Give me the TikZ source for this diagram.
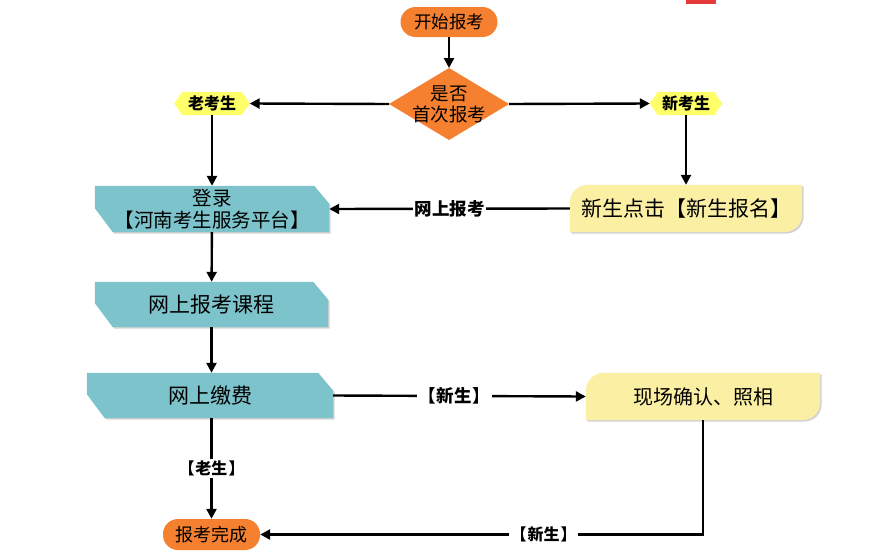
\documentclass[tikz,border=0pt]{standalone}
\usepackage{fontspec}
\setmainfont{Noto Sans CJK SC}
\usetikzlibrary{arrows.meta,calc,backgrounds}
\definecolor{orangec}{HTML}{F5802F}
\definecolor{tealc}{HTML}{7CC3CB}
\definecolor{paley}{HTML}{FBEFA3}
\definecolor{hexy}{HTML}{FFFF6A}
\definecolor{redc}{HTML}{E53A3A}
\tikzset{
  conn/.style={line width=2.4pt,-{Triangle[length=10pt,width=10pt]}},
  lbl/.style={fill=white,font=\bfseries\fontsize{15}{17}\selectfont,inner sep=1.5pt},
  txt/.style={draw=none,inner sep=0pt,align=center,text=black},
  pill/.style={txt,fill=orangec,rounded corners=15pt},
}
\begin{document}
\begin{tikzpicture}[x=1pt,y=-1pt]
\useasboundingbox (0,0) rectangle (869,554);
\fill[redc] (686,0) rectangle (716,3.5);
% nodes
\node[pill,minimum width=97pt,minimum height=30pt,font=\fontsize{17.5}{19}\selectfont] (start) at (449,22) {开始报考};
\node[txt,minimum width=120pt,minimum height=72pt,font=\fontsize{18.5}{21}\selectfont] (dec) at (449,104) {是否\\首次报考};
\coordinate (dect) at (449,68);
\coordinate (decl) at (389,104);
\coordinate (decr) at (509,104);
\node[txt,minimum width=75pt,minimum height=23pt,font=\bfseries\fontsize{16}{17}\selectfont] (old) at (212,103.5) {老考生};
\node[txt,minimum width=72pt,minimum height=23pt,font=\bfseries\fontsize{16}{17}\selectfont] (new) at (686,103.5) {新考生};
\node[txt,minimum width=234pt,minimum height=46pt,font=\fontsize{19.5}{22}\selectfont] (b1) at (212,209) {登录\\【河南考生服务平台】};
\node[txt,minimum width=233pt,minimum height=45pt,font=\fontsize{21}{23}\selectfont] (b2) at (211.5,304.5) {网上报考课程};
\node[txt,minimum width=246pt,minimum height=45pt,font=\fontsize{21}{23}\selectfont] (b3) at (210,395.5) {网上缴费};
\node[txt,minimum width=232pt,minimum height=47pt,font=\fontsize{21}{23}\selectfont] (y1) at (686,208.5) {新生点击【新生报名】};
\node[txt,minimum width=234pt,minimum height=47pt,font=\fontsize{20}{22}\selectfont] (y2) at (703,396.5) {现场确认、照相};
\node[pill,minimum width=97pt,minimum height=31pt,font=\fontsize{18}{20}\selectfont] (end) at (211.5,534.5) {报考完成};
% shapes
\begin{pgfonlayer}{background}
\fill[orangec] (dect) -- (decr) -- (449,140) -- (decl) -- cycle;
\foreach \n in {old,new}{
  \fill[hexy] (\n.west) -- ($(\n.north west)+(8,0)$) -- ($(\n.north east)+(-8,0)$) -- (\n.east)
    -- ($(\n.south east)+(-8,0)$) -- ($(\n.south west)+(8,0)$) -- cycle;
}
\foreach \n in {b1,b2,b3}{
  \fill[gray!35] ($(\n.north west)+(1.5,1.5)$) -- ($(\n.north east)+(-14,1.5)$) -- ($(\n.north east)+(1.5,19.5)$)
    -- ($(\n.south east)+(1.5,1.5)$) -- ($(\n.south west)+(19.5,1.5)$) -- ($(\n.south west)+(1.5,-22.5)$) -- cycle;
  \fill[tealc] (\n.north west) -- ($(\n.north east)+(-15,0)$) -- ($(\n.north east)+(0,18)$)
    -- (\n.south east) -- ($(\n.south west)+(18,0)$) -- ($(\n.south west)+(0,-24)$) -- cycle;
}
\foreach \n in {y1,y2}{
  \coordinate (NW) at (\n.north west);
  \coordinate (NE) at (\n.north east);
  \coordinate (SE) at (\n.south east);
  \coordinate (SW) at (\n.south west);
  \fill[gray!35] ($(SW)+(1.5,1.5)$) -- ($(NW)+(1.5,20)$) .. controls ($(NW)+(1.5,9)$) and ($(NW)+(9,1.5)$) .. ($(NW)+(20,1.5)$)
    -- ($(NE)+(1.5,1.5)$) -- ($(SE)+(1.5,-17)$) .. controls ($(SE)+(1.5,-6)$) and ($(SE)+(-6,1.5)$) .. ($(SE)+(-17,1.5)$) -- cycle;
  \fill[paley] (SW) -- ($(NW)+(0,18)$) .. controls ($(NW)+(0,8)$) and ($(NW)+(8,0)$) .. ($(NW)+(18,0)$)
    -- (NE) -- ($(SE)+(0,-18)$) .. controls ($(SE)+(0,-8)$) and ($(SE)+(-8,0)$) .. ($(SE)+(-18,0)$) -- cycle;
}
\end{pgfonlayer}
% connectors
\draw[conn] (start) -- (dect);
\draw[conn] (decl) -- (old.east);
\draw[conn] (decr) -- (new.west);
\draw[conn] (old) -- (b1);
\draw[conn] (new) -- (y1);
\draw[conn] (y1.west) -- node[lbl,font=\bfseries\fontsize{17.5}{19}\selectfont] {网上报考} (b1.east);
\draw[conn] (b1) -- (b2);
\draw[conn] (b2.south) -- (b2.south |- b3.north);
\draw[conn] (b3.east) -- node[lbl,pos=0.48,font=\bfseries\fontsize{17.5}{19}\selectfont] {【\hspace{1pt}新生\hspace{1pt}】} (y2.west);
\draw[conn] (b2.south |- b3.south) -- node[lbl,font=\bfseries\fontsize{16}{17}\selectfont] {【\hspace{1pt}老生\hspace{1pt}】} (end.north);
\draw[conn] (y2.south) -- (y2.south |- end.east) -- node[lbl,pos=0.36,font=\bfseries\fontsize{16}{17}\selectfont] {【\hspace{1pt}新生\hspace{1pt}】} (end.east);
\end{tikzpicture}
\end{document}
